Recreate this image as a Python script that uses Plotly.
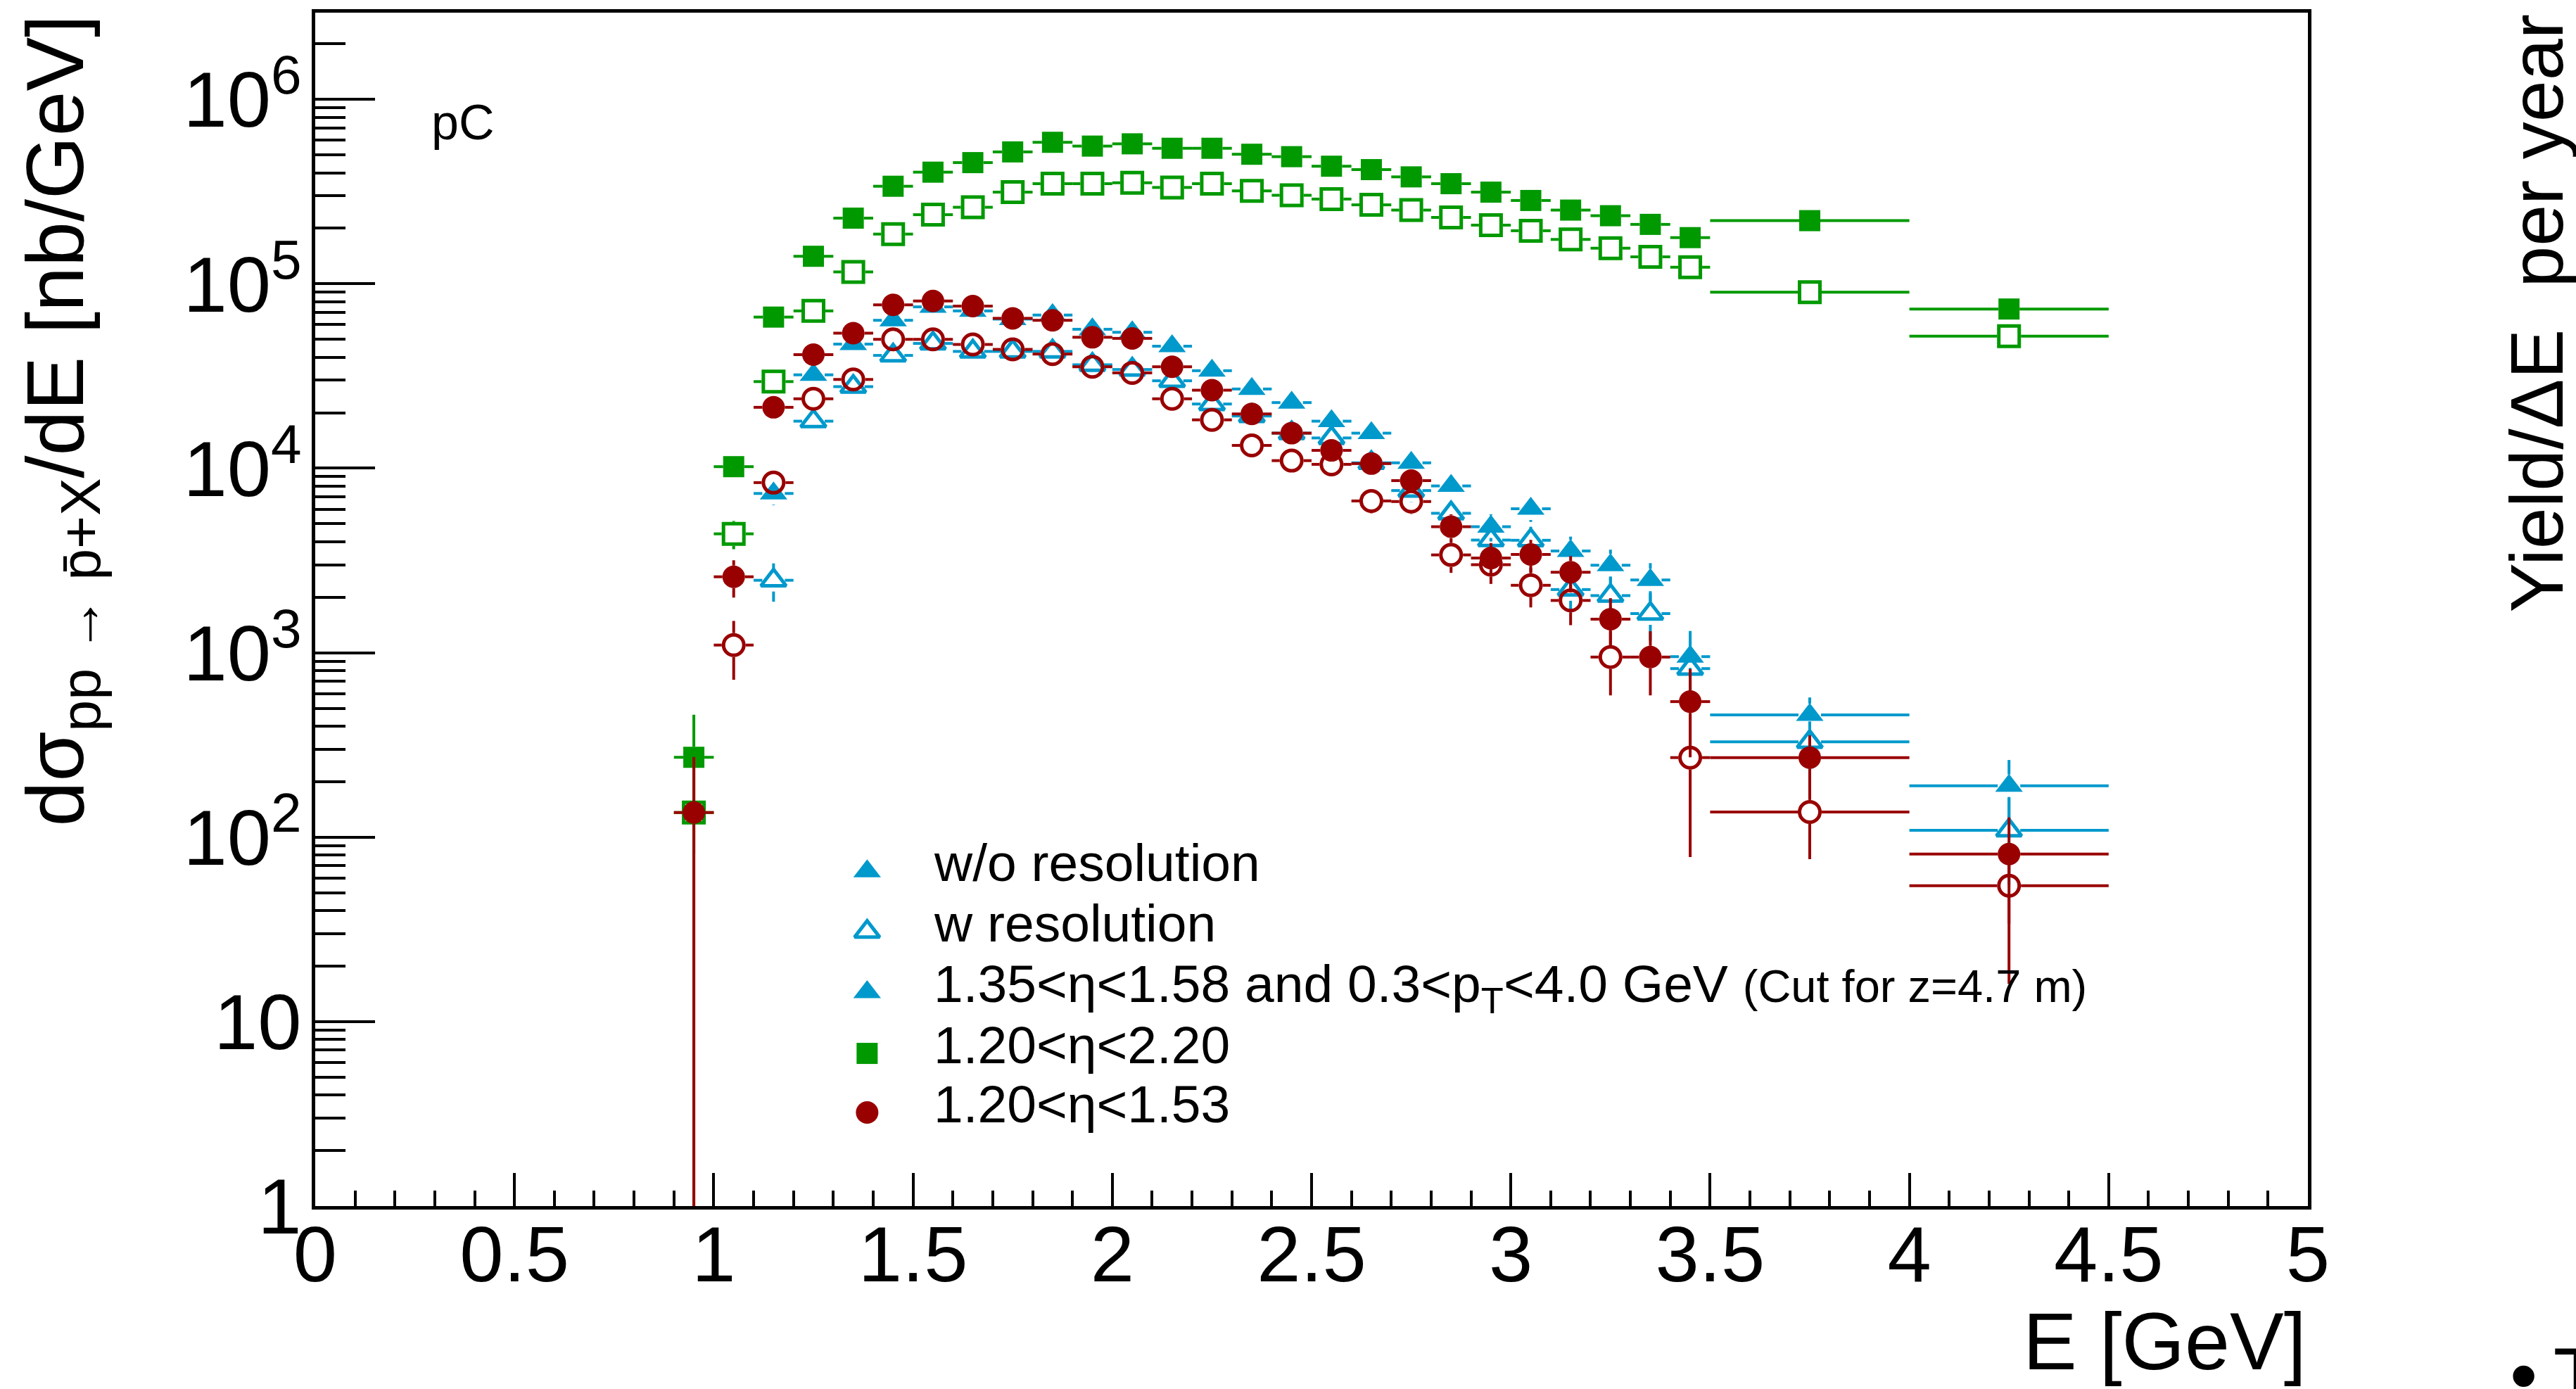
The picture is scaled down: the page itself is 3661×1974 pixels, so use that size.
import plotly.graph_objects as go

# ---------------------------------------------------------------- data ----
# bin centres [GeV] and half bin widths
energy = [0.95, 1.05, 1.15, 1.25, 1.35, 1.45, 1.55, 1.65, 1.75, 1.85,
          1.95, 2.05, 2.15, 2.25, 2.35, 2.45, 2.55, 2.65, 2.75, 2.85,
          2.95, 3.05, 3.15, 3.25, 3.35, 3.45, 3.75, 4.25]
half_width = [0.05, 0.05, 0.05, 0.05, 0.05, 0.05, 0.05, 0.05, 0.05, 0.05,
              0.05, 0.05, 0.05, 0.05, 0.05, 0.05, 0.05, 0.05, 0.05, 0.05,
              0.05, 0.05, 0.05, 0.05, 0.05, 0.05, 0.25, 0.25]

# 1.20<eta<2.20, without / with resolution
green_wo = [271, 1.02e4, 6.6e4, 1.41e5, 2.27e5, 3.38e5, 4.03e5, 4.54e5, 5.19e5, 5.85e5,
            5.58e5, 5.74e5, 5.43e5, 5.43e5, 5.04e5, 4.89e5, 4.34e5, 4.16e5, 3.80e5, 3.49e5,
            3.14e5, 2.83e5, 2.51e5, 2.34e5, 2.10e5, 1.78e5, 2.2e5, 7.3e4]
green_wo_err = [190, 1180, 3000, 4400, 5600, 6800, 7400, 7900, 8400, 8900,
                8700, 8800, 8600, 8600, 8300, 8200, 7700, 7500, 7200, 6900,
                6500, 6200, 5800, 5600, 5300, 4900, 2400, 1400]
green_w = [136, 4.41e3, 2.95e4, 7.13e4, 1.16e5, 1.86e5, 2.37e5, 2.60e5, 3.14e5, 3.49e5,
           3.49e5, 3.53e5, 3.33e5, 3.49e5, 3.19e5, 3.02e5, 2.88e5, 2.68e5, 2.51e5, 2.29e5,
           2.08e5, 1.94e5, 1.74e5, 1.56e5, 1.40e5, 1.23e5, 9.0e4, 5.2e4]
green_w_err = [136, 770, 2000, 3100, 4000, 5000, 5700, 5900, 6500, 6900,
               6900, 6900, 6700, 6900, 6600, 6400, 6300, 6000, 5800, 5600,
               5300, 5100, 4900, 4600, 4400, 4100, 1600, 1200]

# 1.35<eta<1.58 and 0.3<pT<4.0 GeV, without / with resolution
blue_wo = [None, None, 7.3e3, 3.21e4, 4.71e4, 6.34e4, 7.5e4, 7.13e4, 6.44e4, 6.77e4,
           5.67e4, 5.46e4, 4.59e4, 3.38e4, 2.69e4, 2.27e4, 1.80e4, 1.55e4, 1.07e4, 8.02e3,
           4.82e3, 6.03e3, 3.56e3, 2.98e3, 2.48e3, 952, 460, 190]
blue_wo_err = [None, None, 1000, 2090, 2530, 2940, 3190, 3110, 2960, 3030,
               2780, 2730, 2500, 2140, 1910, 1760, 1570, 1450, 1210, 1040,
               810, 910, 700, 640, 580, 360, 112, 72]
blue_w = [None, None, 2.47e3, 1.80e4, 2.77e4, 4.09e4, 4.75e4, 4.3e4, 4.3e4, 4.3e4,
          3.64e4, 3.43e4, 2.98e4, 2.23e4, 1.92e4, 1.55e4, 1.46e4, 1.07e4, 7.57e3, 5.7e3,
          4.08e3, 4.07e3, 2.2e3, 2.04e3, 1.63e3, 820, 329, 109]
blue_w_err = [None, None, 580, 1570, 1940, 2360, 2540, 2420, 2420, 2420,
              2230, 2160, 2010, 1740, 1620, 1450, 1410, 1210, 1015, 880,
              745, 745, 550, 530, 470, 334, 95, 54]

# 1.20<eta<1.53, without / with resolution
red_wo = [136, 2.58e3, 2.14e4, 4.13e4, 5.40e4, 7.69e4, 8.07e4, 7.57e4, 6.5e4, 6.34e4,
          5.13e4, 5.06e4, 3.55e4, 2.65e4, 1.97e4, 1.55e4, 1.25e4, 1.06e4, 8.57e3, 4.82e3,
          3.26e3, 3.41e3, 2.73e3, 1.52e3, 947, 543, 270, 81]
red_wo_err = [136, 590, 1710, 2370, 2710, 3230, 3310, 3210, 2970, 2940,
              2640, 2620, 2200, 1900, 1640, 1450, 1300, 1200, 1080, 810,
              670, 680, 610, 455, 360, 272, 86, 47]
red_w = [None, 1.10e3, 8.36e3, 2.38e4, 3.03e4, 5.0e4, 5.0e4, 4.69e4, 4.41e4, 4.16e4,
         3.55e4, 3.29e4, 2.38e4, 1.83e4, 1.33e4, 1.10e4, 1.05e4, 6.65e3, 6.6e3, 3.39e3,
         3.0e3, 2.32e3, 1.92e3, 947, None, 270, 137, 54.5]
red_w_err = [None, 387, 1070, 1800, 2030, 2610, 2610, 2530, 2450, 2380,
             2200, 2115, 1800, 1580, 1345, 1220, 1195, 950, 947, 680,
             640, 560, 510, 360, None, 192, 61, 38.5]

# axis tick labels
x_tick_vals = [0, 0.5, 1, 1.5, 2, 2.5, 3, 3.5, 4, 4.5, 5]
x_tick_text = ["0", "0.5", "1", "1.5", "2", "2.5", "3", "3.5", "4", "4.5", "5"]
y_tick_vals = [1, 10, 1e2, 1e3, 1e4, 1e5, 1e6]
y_tick_text = ["1", "10", "10<sup>2</sup>", "10<sup>3</sup>", "10<sup>4</sup>",
               "10<sup>5</sup>", "10<sup>6</sup>"]
y2_tick_vals = [1e4, 1e5, 1e6, 1e7, 1e8, 1e9]
y2_tick_text = ["10<sup>4</sup>", "10<sup>5</sup>", "10<sup>6</sup>",
                "10<sup>7</sup>", "10<sup>8</sup>", "10<sup>9</sup>"]

legend_labels = [
    "w/o resolution",
    "w resolution",
    "1.35&lt;η&lt;1.58 and 0.3&lt;p<sub>T</sub>&lt;4.0 GeV "
    "<span style='font-size:65px'>(Cut for z=4.7 m)</span>",
    "1.20&lt;η&lt;2.20",
    "1.20&lt;η&lt;1.53",
]

# --------------------------------------------------------------- layout ----
W, H = 3661, 1974
PL, PR, PT, PB = 447.5, 3280.0, 17.5, 1714.0       # frame edges in pixels
X_RANGE = [0, 5]
Y_RANGE = [0.0, 6.47]                              # decades, left axis
Y2_RANGE = [3.038, 9.508]                          # decades, right axis
PX_PER_GEV = (PR - PL) / (X_RANGE[1] - X_RANGE[0])
PX_PER_DEC = (PB - PT) / (Y_RANGE[1] - Y_RANGE[0])

FONT = "Liberation Sans, Arial, Helvetica, sans-serif"
BLUE, GREEN, RED = "#0099cc", "#009900", "#990000"
LW = 4


def px_x(px):
    return (px - PL) / (PR - PL)


def px_y(py):
    return (PB - py) / (PB - PT)


def error_segments(x, y, half, err, gap_px):
    """Error bars as line pieces that stop at the marker edge."""
    gx = gap_px / PX_PER_GEV
    gf = 10 ** (gap_px / PX_PER_DEC)
    xs, ys = [], []
    for xi, yi, hi, e in zip(x, y, half, err):
        if yi is None:
            continue
        if hi > gx:
            xs += [xi - hi, xi - gx, None, xi + gx, xi + hi, None]
            ys += [yi, yi, None, yi, yi, None]
        if yi + e > yi * gf:
            xs += [xi, xi, None]
            ys += [yi * gf, yi + e, None]
        if yi - e < yi / gf:
            low = yi - e if yi - e > 0 else 1e-3
            xs += [xi, xi, None]
            ys += [yi / gf, low, None]
    return xs, ys


series = [
    (blue_w, blue_w_err, BLUE, "triangle-up-open", 31, 16),
    (blue_wo, blue_wo_err, BLUE, "triangle-up", 34, 16),
    (green_w, green_w_err, GREEN, "square-open", 29, 17),
    (green_wo, green_wo_err, GREEN, "square", 30, 15),
    (red_w, red_w_err, RED, "circle-open", 29, 17),
    (red_wo, red_wo_err, RED, "circle", 32, 16),
]

fig = go.Figure()
for vals, errs, color, symbol, size, gap in series:
    ex, ey = error_segments(energy, vals, half_width, errs, gap)
    fig.add_trace(go.Scatter(x=ex, y=ey, mode="lines", showlegend=False,
                             line=dict(color=color, width=LW), hoverinfo="skip"))
    fig.add_trace(go.Scatter(
        x=energy, y=vals, mode="markers", showlegend=False,
        marker=dict(symbol=symbol, size=size, color=color,
                    line=dict(color=color, width=5 if "open" in symbol else 0))))

# legend glyphs on a pixel-scaled overlay
legend_symbols = [("triangle-up", 34, BLUE), ("triangle-up-open", 31, BLUE),
                  ("triangle-up", 34, BLUE), ("square", 30, GREEN), ("circle", 32, RED)]
legend_rows = [1238, 1324, 1410, 1497, 1581]
legend_glyph_x = 1232
legend_text_x = 1326
for (sym, size, color), row in zip(legend_symbols, legend_rows):
    fig.add_trace(go.Scatter(
        x=[legend_glyph_x], y=[row], xaxis="x3", yaxis="y3", mode="markers",
        showlegend=False, cliponaxis=False, hoverinfo="skip",
        marker=dict(symbol=sym, size=size, color=color,
                    line=dict(color=color, width=5 if "open" in sym else 0))))

axis_common = dict(showline=True, linewidth=5, linecolor="black", showgrid=False,
                   zeroline=False, ticks="inside", tickwidth=4, tickcolor="black",
                   tickfont=dict(family=FONT, size=112, color="black"))

minor_left = [m * 10 ** k for k in range(0, 7) for m in range(2, 10)]
minor_right = [m * 10 ** k for k in range(3, 10) for m in range(2, 10)]

fig.update_layout(
    width=W, height=H,
    margin=dict(l=PL, r=W - PR, t=PT, b=H - PB, autoexpand=False),
    paper_bgcolor="white", plot_bgcolor="white",
    font=dict(family=FONT, color="black"),
    showlegend=False,
    xaxis=dict(range=X_RANGE, mirror=True, ticklen=47, tickmode="array",
               tickvals=x_tick_vals, ticktext=x_tick_text, ticklabelstandoff=-32,
               minor=dict(ticks="inside", ticklen=22, tickwidth=4, tickcolor="black",
                          dtick=0.1, tick0=0),
               **axis_common),
    yaxis=dict(type="log", range=Y_RANGE, mirror=True, ticklen=85, tickmode="array",
               tickvals=y_tick_vals, ticktext=y_tick_text, ticklabelstandoff=-8,
               minor=dict(ticks="inside", ticklen=43, tickwidth=4, tickcolor="black",
                          tickmode="array", tickvals=minor_left),
               **axis_common),
    yaxis2=dict(type="log", range=Y2_RANGE, overlaying="y", side="right", anchor="x",
                ticklen=86, tickmode="array", tickvals=y2_tick_vals, ticktext=y2_tick_text,
                ticklabelstandoff=55,
                minor=dict(ticks="inside", ticklen=42, tickwidth=4, tickcolor="black",
                           tickmode="array", tickvals=minor_right),
                **axis_common),
    xaxis3=dict(range=[PL, PR], overlaying="x", anchor="y3", visible=False),
    yaxis3=dict(range=[PB, PT], overlaying="y", anchor="x3", visible=False),
)

ann = []
# x-axis title
ann.append(dict(text="E [GeV]", x=px_x(3279), y=px_y(1841), xanchor="right",
                yanchor="top", font=dict(size=115)))
# left y-axis title
ann.append(dict(text="dσ<sub>pp → p̄+X</sub>/dE [nb/GeV]", x=px_x(12), y=px_y(19),
                xanchor="left", yanchor="top", textangle=-90, font=dict(size=115)))
# right y-axis title
ann.append(dict(text="Yield/ΔE\u00a0\u00a0per year", x=px_x(3546), y=px_y(19),
                xanchor="left", yanchor="top", textangle=-90, font=dict(size=106)))
# target label
ann.append(dict(text="pC", x=px_x(612), y=px_y(134), xanchor="left", yanchor="top",
                font=dict(size=70)))
# footnote marker at the lower right edge
ann.append(dict(text="•\u2009T", x=px_x(3566), y=px_y(1891), xanchor="left", yanchor="top",
                font=dict(size=112)))
# legend texts
for label, row in zip(legend_labels, legend_rows):
    ann.append(dict(text=label, x=px_x(legend_text_x), y=px_y(row + 13 - 68),
                    xanchor="left", yanchor="top", font=dict(size=75)))

for a in ann:
    a.update(xref="paper", yref="paper", showarrow=False, borderpad=0)
fig.update_layout(annotations=ann)

fig.write_html("out.html")
